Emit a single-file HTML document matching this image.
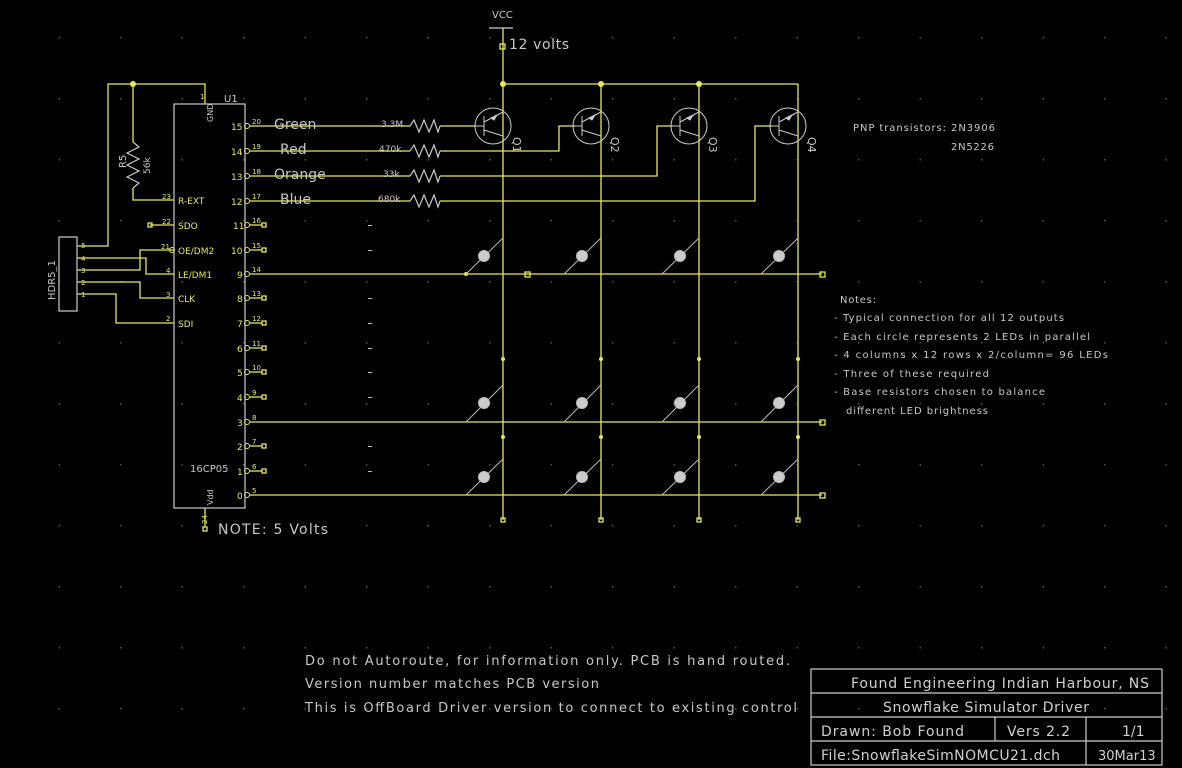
<!DOCTYPE html>
<html><head><meta charset="utf-8"><style>
html,body{margin:0;padding:0;background:#000;}
svg{display:block;}
text{font-family:"DejaVu Sans","Liberation Sans",sans-serif;}
</style></head><body>
<svg width="1182" height="768" viewBox="0 0 1182 768" xmlns="http://www.w3.org/2000/svg">
<defs>
<pattern id="g" x="-3" y="37" width="61.5" height="61" patternUnits="userSpaceOnUse">
<rect x="0" y="0" width="1.5" height="1.5" fill="#555"/>
</pattern>
</defs>
<rect width="1182" height="768" fill="#000"/>
<rect width="1182" height="768" fill="url(#g)"/>

<g stroke="#e8e85a" stroke-width="1.3" fill="none">
<line x1="489" y1="28" x2="513" y2="28" stroke="#ccc"/>
<line x1="503" y1="28" x2="503" y2="520"/>
<rect x="500" y="44" width="5" height="5"/>
<line x1="503" y1="84" x2="798" y2="84"/>
<line x1="601" y1="84" x2="601" y2="520"/>
<line x1="699" y1="84" x2="699" y2="520"/>
<line x1="798" y1="84" x2="798" y2="520"/>
<polyline points="77,246 108,246 108,84 205,84 205,104"/>
<polyline points="133,84 133,142"/>
<polyline points="133,188 133,200 174,200"/>
<polyline points="77,258 146,258 146,274 174,274"/>
<polyline points="77,270 140,270 140,250 174,250"/>
<polyline points="77,282 140,282 140,298 174,298"/>
<polyline points="77,294 116,294 116,323 174,323"/>
<line x1="150" y1="225" x2="174" y2="225"/>
<rect x="148" y="223" width="4" height="4"/>
<line x1="250" y1="126" x2="410" y2="126"/>
<line x1="440" y1="126" x2="476" y2="126"/>
<line x1="250" y1="151" x2="410" y2="151"/>
<polyline points="440,151 559,151 559,126 575,126"/>
<line x1="250" y1="176" x2="410" y2="176"/>
<polyline points="440,176 657,176 657,126 673,126"/>
<line x1="250" y1="201" x2="410" y2="201"/>
<polyline points="440,201 755,201 755,126 772,126"/>
<line x1="250" y1="274" x2="822" y2="274"/>
<line x1="250" y1="422" x2="822" y2="422"/>
<line x1="250" y1="495" x2="822" y2="495"/>
<rect x="820" y="272" width="5" height="5"/>
<rect x="820" y="420" width="5" height="5"/>
<rect x="820" y="493" width="5" height="5"/>
<rect x="525" y="272" width="5" height="5"/>
<rect x="501" y="518" width="4" height="4"/>
<rect x="599" y="518" width="4" height="4"/>
<rect x="697" y="518" width="4" height="4"/>
<rect x="796" y="518" width="4" height="4"/>
<rect x="203" y="527" width="4" height="4"/>
<line x1="205" y1="508" x2="205" y2="527"/>
<g>
<line x1="250" y1="225" x2="262" y2="225"/><rect x="262" y="223" width="4" height="4"/>
<line x1="250" y1="250" x2="262" y2="250"/><rect x="262" y="248" width="4" height="4"/>
<line x1="250" y1="298" x2="262" y2="298"/><rect x="262" y="296" width="4" height="4"/>
<line x1="250" y1="323" x2="262" y2="323"/><rect x="262" y="321" width="4" height="4"/>
<line x1="250" y1="348" x2="262" y2="348"/><rect x="262" y="346" width="4" height="4"/>
<line x1="250" y1="372" x2="262" y2="372"/><rect x="262" y="370" width="4" height="4"/>
<line x1="250" y1="397" x2="262" y2="397"/><rect x="262" y="395" width="4" height="4"/>
<line x1="250" y1="446" x2="262" y2="446"/><rect x="262" y="444" width="4" height="4"/>
<line x1="250" y1="471" x2="262" y2="471"/><rect x="262" y="469" width="4" height="4"/>
</g>
<g stroke-width="1">
<circle cx="247" cy="126" r="2.5"/><circle cx="247" cy="151" r="2.5"/><circle cx="247" cy="176" r="2.5"/><circle cx="247" cy="201" r="2.5"/>
<circle cx="247" cy="225" r="2.5"/><circle cx="247" cy="250" r="2.5"/><circle cx="247" cy="274" r="2.5"/><circle cx="247" cy="298" r="2.5"/>
<circle cx="247" cy="323" r="2.5"/><circle cx="247" cy="348" r="2.5"/><circle cx="247" cy="372" r="2.5"/><circle cx="247" cy="397" r="2.5"/>
<circle cx="247" cy="422" r="2.5"/><circle cx="247" cy="446" r="2.5"/><circle cx="247" cy="471" r="2.5"/><circle cx="247" cy="495" r="2.5"/>
<circle cx="172" cy="250" r="2.5"/>
</g>
</g>
<g fill="#e8e85a">
<circle cx="503" cy="84" r="3"/><circle cx="601" cy="84" r="3"/><circle cx="699" cy="84" r="3"/><circle cx="133" cy="84" r="3"/>
<circle cx="466" cy="274" r="2"/>
<circle cx="503" cy="359" r="2"/><circle cx="601" cy="359" r="2"/><circle cx="699" cy="359" r="2"/><circle cx="798" cy="359" r="2"/>
<circle cx="503" cy="437" r="2"/><circle cx="601" cy="437" r="2"/><circle cx="699" cy="437" r="2"/><circle cx="798" cy="437" r="2"/>
</g>

<g stroke="#ccc" stroke-width="1.2" fill="none">
<polyline points="410,126 414,120 419,132 424,120 429,132 434,120 438,132 440,126"/>
<polyline points="410,151 414,145 419,157 424,145 429,157 434,145 438,157 440,151"/>
<polyline points="410,176 414,170 419,182 424,170 429,182 434,170 438,182 440,176"/>
<polyline points="410,201 414,195 419,207 424,195 429,207 434,195 438,207 440,201"/>
<polyline points="133,142 139,147 127,153 139,159 127,165 139,171 127,177 139,183 133,188"/>
</g>

<rect x="174" y="104" width="71" height="404" fill="none" stroke="#ccc" stroke-width="1.2"/>
<rect x="59" y="237" width="18" height="74" fill="none" stroke="#ccc" stroke-width="1.2"/>

<g stroke="#ccc" stroke-width="1" fill="none">
<g transform="translate(493,126)"><circle r="18"/><line x1="-9" y1="-10" x2="-9" y2="10"/><line x1="-17" y1="0" x2="-9" y2="0"/><line x1="-9" y1="-4" x2="10" y2="-14"/><line x1="-9" y1="4" x2="10" y2="10"/><path d="M-2,-8 L4,-11 L1,-6 Z" fill="#ccc"/></g>
<g transform="translate(591,126)"><circle r="18"/><line x1="-9" y1="-10" x2="-9" y2="10"/><line x1="-17" y1="0" x2="-9" y2="0"/><line x1="-9" y1="-4" x2="10" y2="-14"/><line x1="-9" y1="4" x2="10" y2="10"/><path d="M-2,-8 L4,-11 L1,-6 Z" fill="#ccc"/></g>
<g transform="translate(689,126)"><circle r="18"/><line x1="-9" y1="-10" x2="-9" y2="10"/><line x1="-17" y1="0" x2="-9" y2="0"/><line x1="-9" y1="-4" x2="10" y2="-14"/><line x1="-9" y1="4" x2="10" y2="10"/><path d="M-2,-8 L4,-11 L1,-6 Z" fill="#ccc"/></g>
<g transform="translate(788,126)"><circle r="18"/><line x1="-9" y1="-10" x2="-9" y2="10"/><line x1="-17" y1="0" x2="-9" y2="0"/><line x1="-9" y1="4" x2="10" y2="10"/><line x1="-9" y1="-4" x2="10" y2="-14"/><path d="M-2,-8 L4,-11 L1,-6 Z" fill="#ccc"/></g>
</g>

<g stroke="#bbb" stroke-width="1" fill="#ccc">
<line x1="466" y1="274" x2="503" y2="238"/><circle cx="484" cy="256" r="5.5"/>
<line x1="564" y1="274" x2="601" y2="238"/><circle cx="582" cy="256" r="5.5"/>
<line x1="662" y1="274" x2="699" y2="238"/><circle cx="680" cy="256" r="5.5"/>
<line x1="761" y1="274" x2="798" y2="238"/><circle cx="779" cy="256" r="5.5"/>
<line x1="466" y1="422" x2="503" y2="385"/><circle cx="484" cy="403" r="5.5"/>
<line x1="564" y1="422" x2="601" y2="385"/><circle cx="582" cy="403" r="5.5"/>
<line x1="662" y1="422" x2="699" y2="385"/><circle cx="680" cy="403" r="5.5"/>
<line x1="761" y1="422" x2="798" y2="385"/><circle cx="779" cy="403" r="5.5"/>
<line x1="466" y1="495" x2="503" y2="459"/><circle cx="484" cy="477" r="5.5"/>
<line x1="564" y1="495" x2="601" y2="459"/><circle cx="582" cy="477" r="5.5"/>
<line x1="662" y1="495" x2="699" y2="459"/><circle cx="680" cy="477" r="5.5"/>
<line x1="761" y1="495" x2="798" y2="459"/><circle cx="779" cy="477" r="5.5"/>
</g>

<g fill="#bbb"><rect x="368" y="225" width="4" height="1"/><rect x="368" y="250" width="4" height="1"/><rect x="368" y="298" width="4" height="1"/><rect x="368" y="323" width="4" height="1"/><rect x="368" y="348" width="4" height="1"/><rect x="368" y="372" width="4" height="1"/><rect x="368" y="397" width="4" height="1"/><rect x="368" y="446" width="4" height="1"/><rect x="368" y="471" width="4" height="1"/></g>

<g fill="#c8c8c8" font-size="10">
<text x="492" y="18">VCC</text>
<text x="509" y="49" font-size="14" textLength="60" lengthAdjust="spacing">12  volts</text>
<text x="224" y="102">U1</text>
<text x="213" y="122" font-size="8" transform="rotate(-90 213 122)">GND</text>
<text x="213" y="505" font-size="8" transform="rotate(-90 213 505)">Vdd</text>
<text x="190" y="472">16CP05</text>
<text x="218" y="534" font-size="14" textLength="110" lengthAdjust="spacing">NOTE: 5 Volts</text>
<text x="274" y="129" font-size="14">Green</text>
<text x="280" y="154" font-size="14">Red</text>
<text x="274" y="179" font-size="14">Orange</text>
<text x="280" y="204" font-size="14">Blue</text>
<text x="381" y="127" font-size="9">3.3M</text>
<text x="379" y="152" font-size="9">470k</text>
<text x="383" y="177" font-size="9">33k</text>
<text x="378" y="202" font-size="9">680k</text>
<text x="126" y="168" transform="rotate(-90 126 168)">R5</text>
<text x="150" y="174" font-size="9" transform="rotate(-90 150 174)">56k</text>
<text x="55" y="300" transform="rotate(-90 55 300)">HDR5_1</text>
<text x="513" y="137" transform="rotate(90 513 137)" font-size="11">Q1</text>
<text x="611" y="137" transform="rotate(90 611 137)" font-size="11">Q2</text>
<text x="709" y="137" transform="rotate(90 709 137)" font-size="11">Q3</text>
<text x="808" y="137" transform="rotate(90 808 137)" font-size="11">Q4</text>
<text x="853" y="131" textLength="142" lengthAdjust="spacing">PNP transistors: 2N3906</text>
<text x="951" y="150" textLength="43" lengthAdjust="spacing">2N5226</text>
<text x="840" y="303" textLength="36" lengthAdjust="spacing">Notes:</text>
<text x="834" y="321" textLength="230" lengthAdjust="spacing">- Typical connection for all 12 outputs</text>
<text x="834" y="340" textLength="256" lengthAdjust="spacing">- Each circle represents 2 LEDs in parallel</text>
<text x="834" y="358" textLength="274" lengthAdjust="spacing">- 4 columns x 12 rows x 2/column= 96 LEDs</text>
<text x="834" y="377" textLength="155" lengthAdjust="spacing">- Three of these required</text>
<text x="834" y="395" textLength="211" lengthAdjust="spacing">- Base resistors chosen to balance</text>
<text x="846" y="414" textLength="142" lengthAdjust="spacing">different LED brightness</text>
<text x="305" y="665" font-size="13" textLength="485" lengthAdjust="spacing">Do not Autoroute, for information only.  PCB is hand routed.</text>
<text x="305" y="688" font-size="13" textLength="294" lengthAdjust="spacing">Version number matches PCB version</text>
<text x="305" y="712" font-size="13" textLength="492" lengthAdjust="spacing">This is OffBoard Driver version to connect to existing control</text>
</g>

<g fill="#e8e85a" font-size="9">
<text x="231" y="130">15</text><text x="231" y="155">14</text><text x="231" y="180">13</text><text x="231" y="205">12</text>
<text x="233" y="229">11</text><text x="231" y="254">10</text><text x="237" y="278">9</text><text x="237" y="302">8</text>
<text x="237" y="327">7</text><text x="237" y="352">6</text><text x="237" y="376">5</text><text x="237" y="401">4</text>
<text x="237" y="426">3</text><text x="237" y="450">2</text><text x="237" y="475">1</text><text x="237" y="499">0</text>
<g font-size="7">
<text x="252" y="124">20</text><text x="252" y="149">19</text><text x="252" y="174">18</text><text x="252" y="199">17</text>
<text x="252" y="223">16</text><text x="252" y="248">15</text><text x="252" y="272">14</text><text x="252" y="296">13</text>
<text x="252" y="321">12</text><text x="252" y="346">11</text><text x="252" y="370">10</text><text x="252" y="395">9</text>
<text x="252" y="420">8</text><text x="252" y="444">7</text><text x="252" y="469">6</text><text x="252" y="493">5</text>
<text x="162" y="199">23</text><text x="162" y="224">22</text><text x="161" y="249">21</text><text x="166" y="273">4</text>
<text x="166" y="297">3</text><text x="166" y="321">2</text>
<text x="81" y="248">5</text><text x="81" y="261">4</text><text x="81" y="273">3</text><text x="81" y="285">2</text><text x="81" y="297">1</text>
<text x="200" y="99">1</text>
<text x="207" y="524" transform="rotate(-90 207 524)">24</text>
</g>
<g font-size="9">
<text x="178" y="204">R-EXT</text><text x="178" y="229">SDO</text><text x="178" y="254">OE/DM2</text><text x="178" y="278">LE/DM1</text><text x="178" y="302">CLK</text><text x="178" y="327">SDI</text>
</g>
</g>

<g stroke="#ccc" stroke-width="1.2" fill="none">
<rect x="811" y="669" width="351" height="96"/>
<line x1="811" y1="693" x2="1162" y2="693"/>
<line x1="811" y1="717" x2="1162" y2="717"/>
<line x1="811" y1="741" x2="1162" y2="741"/>
<line x1="995" y1="717" x2="995" y2="741"/>
<line x1="1086" y1="717" x2="1086" y2="765"/>
</g>
<g fill="#d0d0d0" font-size="14">
<text x="851" y="688" textLength="298" lengthAdjust="spacing">Found Engineering  Indian Harbour, NS</text>
<text x="883" y="712" textLength="206" lengthAdjust="spacing">Snowflake Simulator Driver</text>
<text x="821" y="736" textLength="143" lengthAdjust="spacing">Drawn:  Bob Found</text>
<text x="1007" y="736" textLength="63" lengthAdjust="spacing">Vers 2.2</text>
<text x="1122" y="736">1/1</text>
<text x="1098" y="760" font-size="13">30Mar13</text>
<text x="821" y="760" textLength="239" lengthAdjust="spacing">File:SnowflakeSimNOMCU21.dch</text>
</g>
</svg>
</body></html>
